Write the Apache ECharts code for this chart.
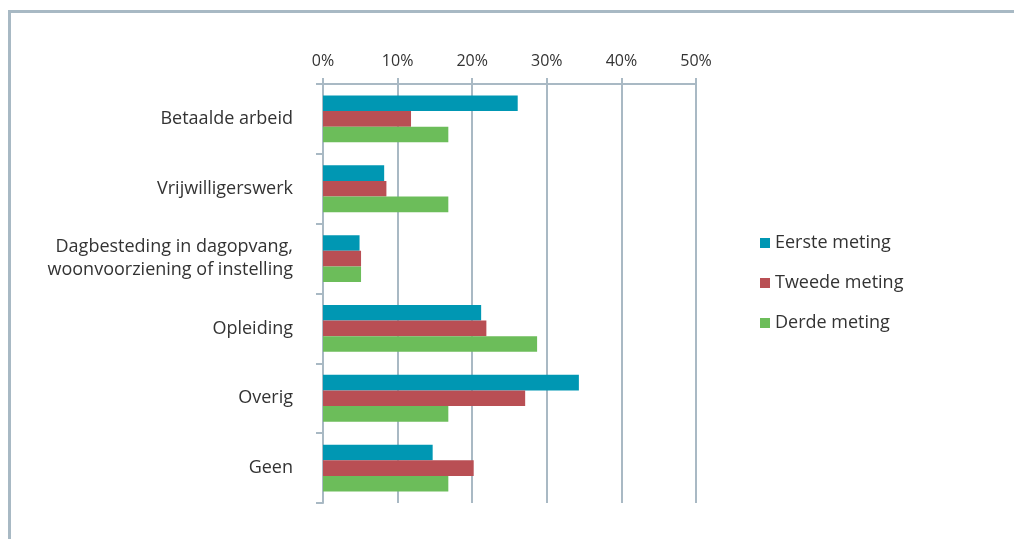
<!DOCTYPE html>
<html>
<head>
<meta charset="utf-8">
<script src="https://cdn.jsdelivr.net/npm/echarts@6/dist/echarts.min.js"></script>
<style>
  html, body { margin: 0; padding: 0; background: #fff; }
  #frame {
    position: absolute; left: 8px; top: 10px; right: 0; bottom: 0;
    border-top: 3px solid #a8b9c4; border-left: 3px solid #a8b9c4;
  }
  #chart { position: absolute; left: 0; top: 0; width: 1014px; height: 539px; }
</style>
</head>
<body>
<div id="frame"></div>
<div id="chart"></div>
<script>
// categorieen en waarden (in %)
var categories = [
  'Betaalde arbeid',
  'Vrijwilligerswerk',
  'Dagbesteding in dagopvang,\nwoonvoorziening of instelling',
  'Opleiding',
  'Overig',
  'Geen'
]
var eersteMeting = [26.1, 8.2, 4.9, 21.2, 34.3, 14.7]
var tweedeMeting = [11.8, 8.5, 5.1, 21.9, 27.1, 20.2]
var derdeMeting = [16.8, 16.8, 5.1, 28.7, 16.8, 16.8]
var seriesNames = ['Eerste meting', 'Tweede meting', 'Derde meting']

var lineColor = '#a9b9c4'
var textColor = '#333333'
var fontName = '"Open Sans", "Noto Sans", sans-serif'

var myChart = echarts.init(document.getElementById('chart'))
myChart.setOption({
  color: ['#0097b3', '#b94f54', '#6cbd5a'],
  textStyle: { fontFamily: fontName },
  grid: {
    left: 323,
    right: 318,
    top: 84,
    bottom: 36
  },
  legend: {
    orient: 'vertical',
    left: 755,
    top: 227,
    itemWidth: 10,
    itemHeight: 10,
    itemGap: 18,
    icon: 'rect',
    data: seriesNames,
    textStyle: { fontSize: 18, color: textColor, lineHeight: 22, fontFamily: fontName }
  },
  xAxis: {
    type: 'value',
    position: 'top',
    min: 0,
    max: 50,
    interval: 10,
    axisLine: { show: true, lineStyle: { color: lineColor, width: 2 } },
    axisTick: { show: true, length: 6, lineStyle: { color: lineColor, width: 2 } },
    splitLine: { show: true, lineStyle: { color: lineColor, width: 2 } },
    axisLabel: {
      margin: 15,
      fontSize: 16,
      color: textColor,
      formatter: '{value}%'
    }
  },
  yAxis: {
    type: 'category',
    inverse: true,
    data: categories,
    axisLine: { show: true, lineStyle: { color: lineColor, width: 2 } },
    axisTick: { show: true, length: 7, lineStyle: { color: lineColor, width: 2 } },
    axisLabel: {
      margin: 30,
      fontSize: 18,
      lineHeight: 23,
      padding: [6, 0, 0, 0],
      color: textColor,
      align: 'right'
    }
  },
  series: [
    { name: seriesNames[0], type: 'bar', data: eersteMeting, barGap: '0%', barCategoryGap: '33%' },
    { name: seriesNames[1], type: 'bar', data: tweedeMeting, barGap: '0%', barCategoryGap: '33%' },
    { name: seriesNames[2], type: 'bar', data: derdeMeting, barGap: '0%', barCategoryGap: '33%' }
  ]
})
</script>
</body>
</html>
